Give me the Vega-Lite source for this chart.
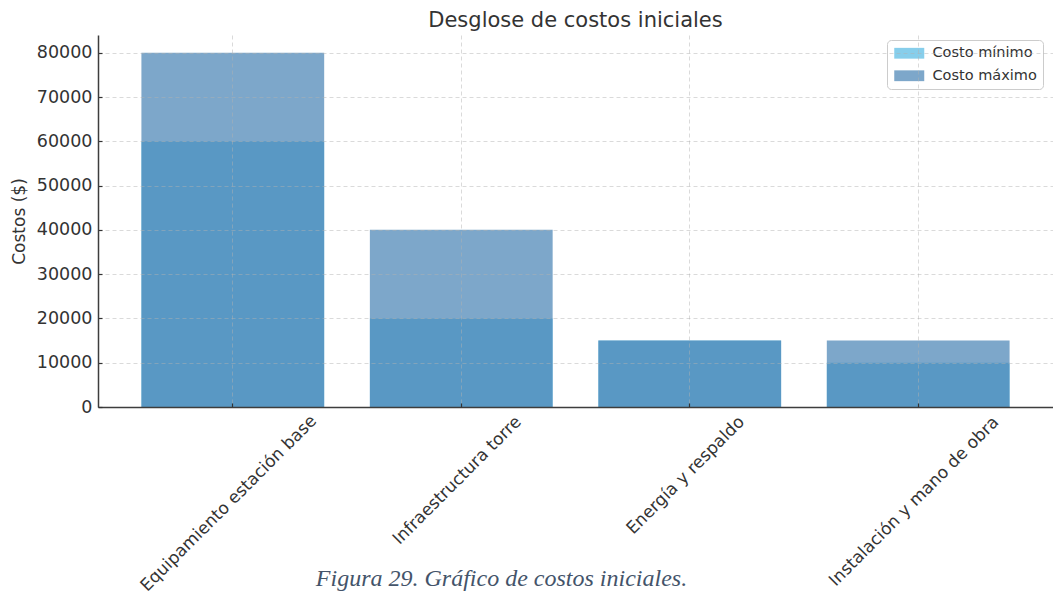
{
  "$schema": "https://vega.github.io/schema/vega-lite/v6.json",
  "width": 955,
  "height": 372,
  "autosize": {"type": "none"},
  "padding": {"left": 98, "top": 35, "right": 0, "bottom": 189},
  "background": "white",
  "config": {"view": {"stroke": null}, "font": "DejaVu Sans"},
  "title": {"text": "Desglose de costos iniciales", "font": "DejaVu Sans", "fontSize": 21, "fontWeight": "normal", "color": "#333333", "anchor": "middle", "frame": "group", "offset": 4},
  "data": {"values": [
    {"categoria": "Equipamiento estación base", "tipo": "Costo mínimo", "costo": 60000},
    {"categoria": "Infraestructura torre", "tipo": "Costo mínimo", "costo": 20000},
    {"categoria": "Energía y respaldo", "tipo": "Costo mínimo", "costo": 15000},
    {"categoria": "Instalación y mano de obra", "tipo": "Costo mínimo", "costo": 10000},
    {"categoria": "Equipamiento estación base", "tipo": "Costo máximo", "costo": 80000},
    {"categoria": "Infraestructura torre", "tipo": "Costo máximo", "costo": 40000},
    {"categoria": "Energía y respaldo", "tipo": "Costo máximo", "costo": 15000},
    {"categoria": "Instalación y mano de obra", "tipo": "Costo máximo", "costo": 15000}
  ]},
  "mark": {"type": "bar"},
  "encoding": {
    "x": {
      "field": "categoria", "type": "nominal", "sort": null,
      "scale": {"paddingInner": 0.2, "paddingOuter": 0.19},
      "axis": {
        "title": "Figura 29. Gráfico de costos iniciales.",
        "titleFont": "Liberation Serif", "titleFontStyle": "italic", "titleFontWeight": "normal",
        "titleFontSize": 24, "titleColor": "#44546a",
        "titleX": 403, "titleY": 178, "titleBaseline": "alphabetic", "titleAlign": "center", "titleAngle": 0,
        "labelAngle": -45, "labelAlign": "center", "labelBaseline": "middle",
        "labelFont": "DejaVu Sans", "labelFontSize": 17, "labelColor": "#333333",
        "labelOffset": -4,
        "labelPadding": {"condition": [
          {"test": "datum.value === 'Equipamiento estación base'", "value": 100},
          {"test": "datum.value === 'Infraestructura torre'", "value": 77},
          {"test": "datum.value === 'Energía y respaldo'", "value": 72}
        ], "value": 98},
        "labelOverlap": false, "labelBound": false, "labelFlush": false, "labelLimit": 400,
        "tickSize": -4, "tickColor": "#333333", "tickWidth": 1.2,
        "domainColor": "#3d3d3d", "domainWidth": 1.5,
        "grid": true, "gridColor": "#b0b0b0", "gridOpacity": 0.6, "gridDash": [4, 3], "gridWidth": 0.8,
        "bandPosition": 0.5, "zindex": 1
      }
    },
    "y": {
      "field": "costo", "type": "quantitative", "stack": null,
      "scale": {"domain": [0, 84000], "nice": false, "zero": true},
      "axis": {
        "title": "Costos ($)", "titleFont": "DejaVu Sans", "titleFontSize": 17, "titleFontWeight": "normal",
        "titleColor": "#333333", "titlePadding": 8,
        "values": [0, 10000, 20000, 30000, 40000, 50000, 60000, 70000, 80000], "format": "d",
        "labelFont": "DejaVu Sans", "labelFontSize": 17.5, "labelColor": "#333333", "labelPadding": 10,
        "tickSize": -4, "tickColor": "#333333", "tickWidth": 1.2,
        "domainColor": "#3d3d3d", "domainWidth": 1.5,
        "grid": true, "gridColor": "#b0b0b0", "gridOpacity": 0.6, "gridDash": [4, 3], "gridWidth": 0.8,
        "zindex": 1
      }
    },
    "opacity": {
      "field": "tipo", "type": "nominal",
      "scale": {"domain": ["Costo mínimo", "Costo máximo"], "range": [1, 0.7]}
    },
    "color": {
      "field": "tipo", "type": "nominal",
      "scale": {"domain": ["Costo mínimo", "Costo máximo"], "range": ["#87ceeb", "#4682b4"]},
      "legend": {
        "title": null, "orient": "none", "legendX": 789, "legendY": 5,
        "fillColor": "rgba(255,255,255,0.8)", "strokeColor": "#cccccc", "cornerRadius": 4, "padding": 6,
        "symbolType": "M-1,-0.9L4,-0.9L4,0.9L-1,0.9Z", "symbolSize": 144,
        "symbolStrokeWidth": 0,
        "labelFont": "DejaVu Sans", "labelFontSize": 14.5, "labelColor": "#333333",
        "labelOffset": 25, "rowPadding": 7.5
      }
    }
  }
}
